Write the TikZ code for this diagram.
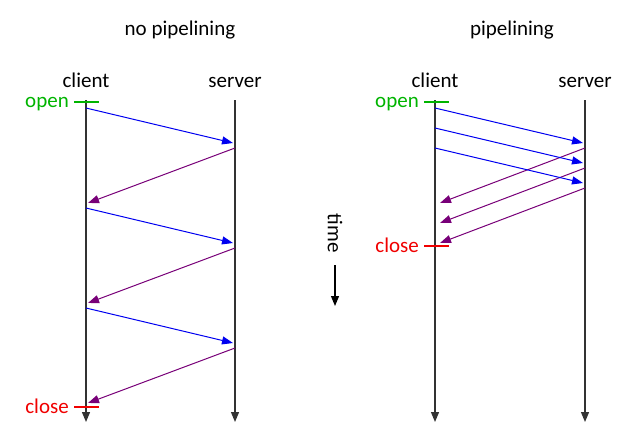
\documentclass[tikz,border=0pt]{standalone}
\usepackage{fontspec}
\setmainfont{Carlito}
\usetikzlibrary{arrows.meta}
\definecolor{req}{RGB}{0,0,240}
\definecolor{resp}{RGB}{120,0,120}
\definecolor{opengreen}{RGB}{0,180,0}
\definecolor{closered}{RGB}{240,0,0}
\begin{document}
\begin{tikzpicture}[x=1pt,y=-1pt,
  lbl/.style={font=\fontsize{21}{24}\selectfont, inner sep=0pt, anchor=base},
  lifeline/.style={draw=black!80, line width=1.2pt, -{Triangle[length=10pt,width=8pt]}},
  reqarrow/.style={draw=req, line width=1pt, -{Triangle[length=11pt,width=8pt]}},
  resparrow/.style={draw=resp, line width=1pt, -{Triangle[length=11pt,width=8pt]}},
  opentick/.style={draw=opengreen, line width=1.4pt},
  closetick/.style={draw=closered, line width=1.4pt}]
\useasboundingbox (0,0) rectangle (640,445);
% titles
\node[lbl] (t1) at (180,35) {no pipelining};
\node[lbl] (t2) at (512,35) {pipelining};
% left diagram
\node[lbl] (c1) at (86,87) {client};
\node[lbl] (s1) at (235,87) {server};
\coordinate (c1top) at (86,100); \coordinate (c1bot) at (86,422);
\coordinate (s1top) at (235,100); \coordinate (s1bot) at (235,422);
\draw[lifeline] (c1top) -- (c1bot);
\draw[lifeline] (s1top) -- (s1bot);
\coordinate (o1a) at (74,102); \coordinate (o1b) at (99,102);
\draw[opentick] (o1a) -- (o1b);
\node[lbl, text=opengreen, anchor=base east] (open1) at (69,107) {open};
\coordinate (x1a) at (74,407); \coordinate (x1b) at (99,407);
\draw[closetick] (x1a) -- (x1b);
\node[lbl, text=closered, anchor=base east] (close1) at (69,413) {close};
\foreach \i/\y in {0/108,1/208,2/308}{
  \coordinate (lq\i s) at (86,\y);
  \coordinate (lq\i e) at (233,\y+35);
  \draw[reqarrow] (lq\i s) -- (lq\i e);
  \coordinate (lr\i s) at (235,\y+40);
  \coordinate (lr\i e) at (88,\y+95);
  \draw[resparrow] (lr\i s) -- (lr\i e);
}
% time arrow
\node[font=\fontsize{21}{24}\selectfont, inner sep=0pt, rotate=-90] (time) at (335,233) {time};
\coordinate (ta) at (335,265); \coordinate (tb) at (335,306);
\draw[draw=black, line width=1.2pt, -{Triangle[length=10pt,width=8pt]}] (ta) -- (tb);
% right diagram
\node[lbl] (c2) at (435,87) {client};
\node[lbl] (s2) at (585,87) {server};
\coordinate (c2top) at (435,100); \coordinate (c2bot) at (435,422);
\coordinate (s2top) at (585,100); \coordinate (s2bot) at (585,422);
\draw[lifeline] (c2top) -- (c2bot);
\draw[lifeline] (s2top) -- (s2bot);
\coordinate (o2a) at (424,102); \coordinate (o2b) at (449,102);
\draw[opentick] (o2a) -- (o2b);
\node[lbl, text=opengreen, anchor=base east] (open2) at (419,107) {open};
\coordinate (x2a) at (424,246); \coordinate (x2b) at (449,246);
\draw[closetick] (x2a) -- (x2b);
\node[lbl, text=closered, anchor=base east] (close2) at (419,252) {close};
\foreach \i/\y in {0/108,1/128,2/148}{
  \coordinate (rq\i s) at (435,\y);
  \coordinate (rq\i e) at (583,\y+35);
  \draw[reqarrow] (rq\i s) -- (rq\i e);
  \coordinate (rr\i s) at (585,\y+40);
  \coordinate (rr\i e) at (440,\y+95);
  \draw[resparrow] (rr\i s) -- (rr\i e);
}
\end{tikzpicture}
\end{document}
